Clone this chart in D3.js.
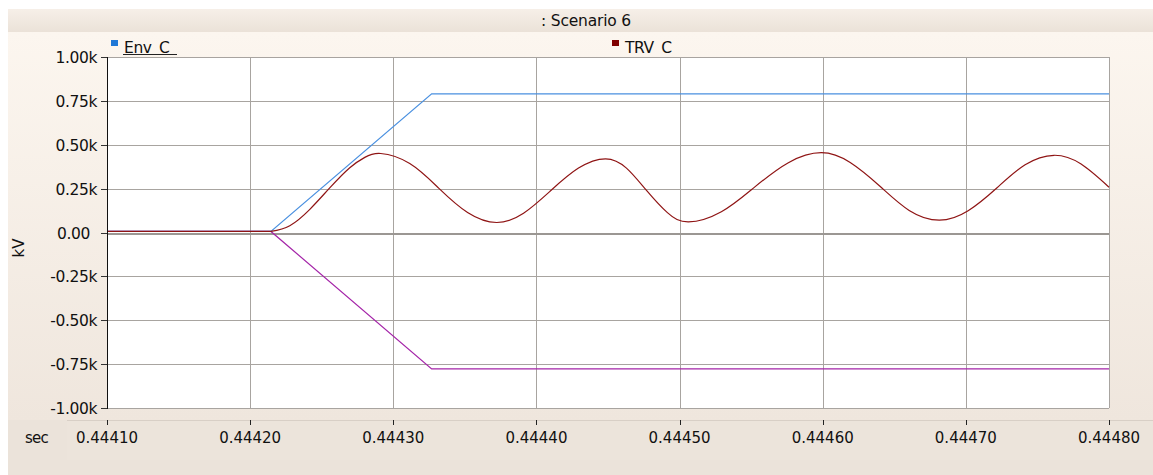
<!DOCTYPE html>
<html>
<head>
<meta charset="utf-8">
<script src="https://cdn.jsdelivr.net/npm/d3@7"></script>
<style>
  html, body { margin: 0; padding: 0; background: #fff; }
  svg { display: block; font-family: "DejaVu Sans", Verdana, sans-serif; }
</style>
</head>
<body>
<svg id="chart" width="1153" height="475"></svg>
<script>
// time in sec, voltage in kV
var xTicks = [0.44410, 0.44420, 0.44430, 0.44440, 0.44450, 0.44460, 0.44470, 0.44480];
var yTicks = [-1000, -750, -500, -250, 0, 250, 500, 750, 1000];

var envUpper = [
  [0.44410, 6], [0.4442145, 6], [0.4443268, 790], [0.44480, 790]
];
var envLower = [
  [0.44410, 6], [0.4442145, 6], [0.4443268, -777], [0.44480, -777]
];
// flat part before the current zero
var trvFlat = [[0.44410, 6], [0.4442145, 6]];
// oscillation after the current zero
var trvTime = [
  0.4442145, 0.4442277, 0.4442417, 0.4442556, 0.4442696, 0.4442801, 0.4442912,
  0.4443115, 0.4443317, 0.4443519, 0.4443722, 0.4443910, 0.4444099, 0.4444294, 0.4444483,
  0.4444629, 0.4444769, 0.4444915, 0.4445062, 0.4445292, 0.4445522, 0.4445760, 0.4445990,
  0.4446192, 0.4446402, 0.4446604, 0.4446814, 0.4447016, 0.4447218, 0.4447414, 0.4447616,
  0.4447805, 0.44480
];
var trvValue = [
  6, 39, 132, 254, 369, 428, 450,
  393, 253, 114, 57, 110, 238, 367, 420,
  367, 240, 113, 60, 118, 257, 398, 455,
  399, 262, 126, 70, 124, 255, 386, 440,
  390, 258
];

var svg = d3.select('#chart');
var defs = svg.append('defs');

var g1 = defs.append('linearGradient').attr('id','titleGrad').attr('x1',0).attr('y1',0).attr('x2',0).attr('y2',1);
g1.append('stop').attr('offset','0%').attr('stop-color','#f6efe8');
g1.append('stop').attr('offset','100%').attr('stop-color','#ebe2d8');

var g2 = defs.append('linearGradient').attr('id','panelGrad').attr('x1',0).attr('y1',0).attr('x2',0).attr('y2',1);
g2.append('stop').attr('offset','0%').attr('stop-color','#fcf6ef');
g2.append('stop').attr('offset','100%').attr('stop-color','#efe6dd');

// panel backgrounds
svg.append('rect').attr('x',8).attr('y',32).attr('width',1145).attr('height',388).attr('fill','url(#panelGrad)');
svg.append('rect').attr('x',8).attr('y',9).attr('width',1145).attr('height',23).attr('fill','url(#titleGrad)');
svg.append('rect').attr('x',8).attr('y',420).attr('width',1145).attr('height',55).attr('fill','#ebe3da');
svg.append('rect').attr('x',67).attr('y',420).attr('width',1086).attr('height',40).attr('fill','#ece4db');
svg.append('line').attr('x1',67).attr('x2',1153).attr('y1',420.5).attr('y2',420.5).attr('stroke','#d8cfc6');

var x = d3.scaleLinear().domain([0.44410, 0.44480]).range([107, 1109]);
var y = d3.scaleLinear().domain([-1000, 1000]).range([408, 57]);

// plot area
svg.append('rect').attr('x',x.range()[0]).attr('y',y.range()[1])
  .attr('width',x.range()[1]-x.range()[0]).attr('height',y.range()[0]-y.range()[1])
  .attr('fill','#fff');

var grid = svg.append('g').attr('shape-rendering','crispEdges');
grid.selectAll('line.v').data(xTicks).enter().append('line')
  .attr('class','v')
  .attr('x1',function(d){ return Math.round(x(d))+0.5; })
  .attr('x2',function(d){ return Math.round(x(d))+0.5; })
  .attr('y1',y(1000)).attr('y2',y(-1000))
  .attr('stroke','#a8a4a0').attr('stroke-width',1.5);
grid.selectAll('line.h').data(yTicks).enter().append('line')
  .attr('class','h')
  .attr('x1',x(0.44410)).attr('x2',x(0.44480))
  .attr('y1',function(d){ return Math.round(y(d))+0.5; })
  .attr('y2',function(d){ return Math.round(y(d))+0.5; })
  .attr('stroke',function(d){ return d===0 ? '#9b9793' : '#a8a4a0'; })
  .attr('stroke-width',function(d){ return d===0 ? 2 : 1.5; });

// series
var line = d3.line()
  .x(function(d){ return x(d[0]); })
  .y(function(d){ return y(d[1]); });
var smooth = d3.line()
  .x(function(d){ return x(d[0]); })
  .y(function(d){ return y(d[1]); })
  .curve(d3.curveNatural);

svg.append('path').datum(envLower).attr('d',line)
  .attr('fill','none').attr('stroke','#a424a8').attr('stroke-width',1.2);
svg.append('path').datum(envUpper).attr('d',line)
  .attr('fill','none').attr('stroke','#4a90e0').attr('stroke-width',1.2);
svg.append('path').datum(trvFlat).attr('d',line)
  .attr('fill','none').attr('stroke','#8f1414').attr('stroke-width',1.2);
svg.append('path').datum(trvTime.map(function(t,i){ return [t, trvValue[i]]; })).attr('d',smooth)
  .attr('fill','none').attr('stroke','#8f1414').attr('stroke-width',1.2);

// y axis
var yAxis = svg.append('g').attr('shape-rendering','crispEdges');
yAxis.append('line').attr('x1',107.5).attr('x2',107.5).attr('y1',y(1000)).attr('y2',y(-1000)+1)
  .attr('stroke','#111').attr('stroke-width',1.5);
yAxis.selectAll('line.t').data(yTicks).enter().append('line')
  .attr('class','t')
  .attr('x1',101).attr('x2',107)
  .attr('y1',function(d){ return Math.round(y(d))+0.5; })
  .attr('y2',function(d){ return Math.round(y(d))+0.5; })
  .attr('stroke','#333');
svg.append('g').selectAll('text').data(yTicks).enter().append('text')
  .attr('x',function(d){ return d===0 ? 90 : 97; })
  .attr('y',function(d){ return y(d)+6; })
  .attr('text-anchor','end')
  .attr('font-size','15.5px')
  .attr('letter-spacing','-0.4')
  .attr('fill','#111')
  .text(function(d){ return d===0 ? '0.00' : (d/1000).toFixed(2)+'k'; });

svg.append('text').attr('transform','translate(24,248) rotate(-90)')
  .attr('text-anchor','middle').attr('font-size','15px').attr('fill','#111').text('kV');

// x axis
svg.append('g').attr('shape-rendering','crispEdges').selectAll('line').data(xTicks).enter().append('line')
  .attr('x1',function(d){ return Math.round(x(d))+0.5; })
  .attr('x2',function(d){ return Math.round(x(d))+0.5; })
  .attr('y1',420).attr('y2',425).attr('stroke','#222');
svg.append('g').selectAll('text').data(xTicks).enter().append('text')
  .attr('x',function(d){ return x(d); })
  .attr('y',443)
  .attr('text-anchor','middle')
  .attr('font-size','15px')
  .attr('fill','#111')
  .text(function(d){ return d3.format('.5f')(d); });
svg.append('text').attr('x',25).attr('y',443).attr('font-size','15px')
  .attr('letter-spacing','-0.8').attr('fill','#111').text('sec');

// title
svg.append('text').attr('x',586).attr('y',26).attr('text-anchor','middle')
  .attr('font-size','15.5px').attr('letter-spacing','-0.2').attr('fill','#111').text(': Scenario 6');

// legend
var legend = [
  {name:'Env_C', color:'#1f78d6', x:111, underline:true},
  {name:'TRV_C', color:'#800000', x:612, underline:false}
];
defs.append('clipPath').attr('id','legClip').append('rect')
  .attr('x',0).attr('y',32).attr('width',1153).attr('height',22);
var lg = svg.append('g').attr('clip-path','url(#legClip)');
legend.forEach(function(l){
  lg.append('rect').attr('x',l.x).attr('y',40).attr('width',7).attr('height',6).attr('fill',l.color);
  lg.append('text').attr('x',l.x+13).attr('y',53).attr('font-size','15.5px')
    .attr('letter-spacing','-0.4').attr('fill','#111').text(l.name);
  if(l.underline){
    svg.append('line').attr('x1',l.x+12).attr('x2',l.x+66).attr('y1',54.5).attr('y2',54.5)
      .attr('stroke','#222').attr('shape-rendering','crispEdges');
  }
});
</script>
</body>
</html>
